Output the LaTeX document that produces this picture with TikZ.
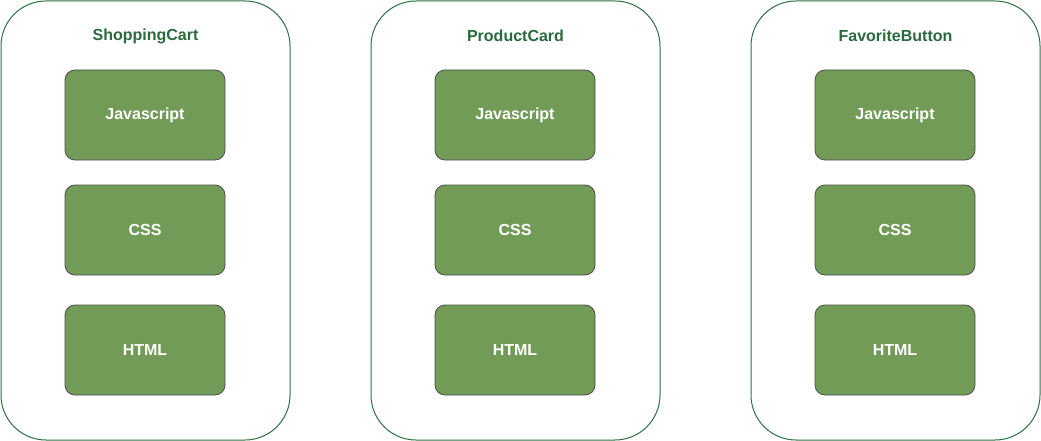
\documentclass[tikz,border=0pt]{standalone}
\usepackage{fontspec}
\setmainfont{Liberation Sans}
\begin{document}
\begin{tikzpicture}[x=1pt,y=-1pt,
  container/.style={draw=outerc, line width=1pt, rounded corners=45pt, fill=white},
  part/.style={draw=partc, fill=fillc, line width=0.8pt, rounded corners=10pt, minimum width=160pt, minimum height=90pt, text=white, font=\fontsize{16}{18}\selectfont\bfseries},
  title/.style={text=titlec, font=\fontsize{16}{18}\selectfont\bfseries}]
\definecolor{outerc}{HTML}{2E7044}
\definecolor{partc}{HTML}{4D4D4D}
\definecolor{fillc}{HTML}{729B58}
\definecolor{titlec}{HTML}{2B6A3E}
\useasboundingbox (0,0) rectangle (1041,441);
\foreach \x/\t/\n in {0/ShoppingCart/a, 370/ProductCard/b, 750/FavoriteButton/c}{
  \draw[container] (\x+1,1) rectangle (\x+290,440);
  \node[title] (t\n) at (\x+145.5,36) {\t};
  \node[part] (js\n) at (\x+145,115) {Javascript};
  \node[part] (css\n) at (\x+145,230) {CSS};
  \node[part] (html\n) at (\x+145,350) {HTML};
}
\end{tikzpicture}
\end{document}
